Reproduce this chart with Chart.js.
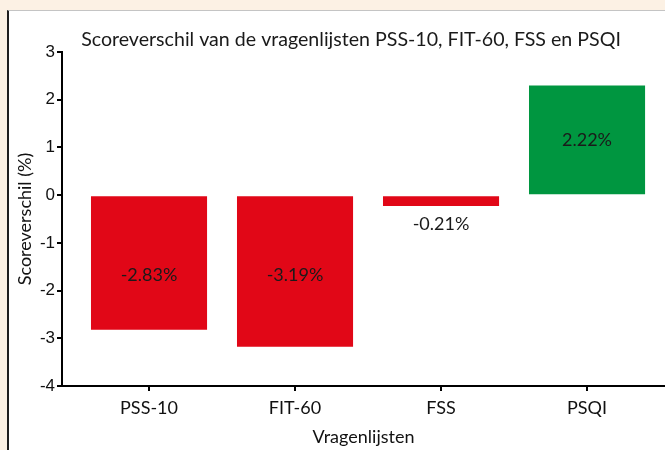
<!DOCTYPE html>
<html>
<head>
<meta charset="utf-8">
<script src="https://cdn.jsdelivr.net/npm/chart.js@4.4.0/dist/chart.umd.min.js"></script>
<style>
  html, body { margin: 0; padding: 0; background: #fcf1e4; width: 665px; height: 450px; overflow: hidden; }
  #box { position: absolute; left: 7px; top: 10px; width: 700px; height: 500px; background: #fff;
         border-left: 2px solid #1e1e1e; border-top: 1px solid #c4c4c4; }
  #wrap { position: absolute; left: 0; top: 0; width: 665px; height: 450px; }
</style>
</head>
<body>
<div id="box"></div>
<div id="wrap"><canvas id="chart" width="665" height="450"></canvas></div>
<script>
// data
const categories = ['PSS-10', 'FIT-60', 'FSS', 'PSQI'];
const scores = [-2.82, -3.18, -0.23, 2.30];
const valueLabels = ['-2.83%', '-3.19%', '-0.21%', '2.22%'];
const yMin = -4, yMax = 3;

const RED = '#e10717', GREEN = '#009640';
const textFont = 'Lato, "Open Sans", sans-serif';

// title + labels on the bars
const textPlugin = {
  id: 'texts',
  afterDatasetsDraw(chart) {
    const ctx = chart.ctx;
    const y = chart.scales.y;
    const meta = chart.getDatasetMeta(0);
    ctx.save();
    ctx.fillStyle = '#1a1a1a';
    ctx.textAlign = 'center';
    ctx.textBaseline = 'middle';
    ctx.font = '18px ' + textFont;
    meta.data.forEach((el, i) => {
      const v = scores[i];
      let ly;
      if (v > 0) ly = (el.y + el.base) / 2;
      else if (v < -1) ly = y.getPixelForValue(-1.68);
      else ly = el.y + 18;
      ctx.fillText(valueLabels[i], el.x, ly);
    });
    ctx.font = '19.6px ' + textFont;
    ctx.fillText('Scoreverschil van de vragenlijsten PSS-10, FIT-60, FSS en PSQI', 351, 40);
    ctx.restore();
  }
};

new Chart(document.getElementById('chart'), {
  type: 'bar',
  data: {
    datasets: [{
      data: scores.map((v, i) => ({ x: i, y: v })),
      backgroundColor: scores.map(v => v < 0 ? RED : GREEN),
      borderWidth: 0,
      categoryPercentage: 1,
      barPercentage: 0.795
    }]
  },
  options: {
    responsive: false,
    animation: false,
    layout: { padding: { top: 52, left: 0, right: 0, bottom: 0 } },
    plugins: { legend: { display: false }, tooltip: { enabled: false }, title: { display: false } },
    scales: {
      x: {
        type: 'linear',
        offset: false,
        min: -0.596,
        max: 3.534,
        afterFit: s => { s.height = 64; },
        border: { display: true, color: '#000', width: 2 },
        grid: { offset: false, drawOnChartArea: false, drawTicks: true, tickLength: 5, color: '#000', lineWidth: 2 },
        ticks: {
          stepSize: 1,
          includeBounds: false,
          autoSkip: false,
          maxRotation: 0,
          padding: 6,
          color: '#111',
          font: { family: textFont, size: 18 },
          callback: v => categories[v] ?? ''
        },
        title: {
          display: true,
          text: 'Vragenlijsten',
          color: '#111',
          font: { family: textFont, size: 18 },
          padding: { top: 0, bottom: 2 }
        }
      },
      y: {
        min: yMin,
        max: yMax,
        afterFit: s => { s.width = 62; },
        border: { display: true, color: '#000', width: 2 },
        grid: { drawOnChartArea: false, drawTicks: true, tickLength: 5, color: '#000', lineWidth: 2 },
        ticks: {
          stepSize: 1,
          padding: 2,
          color: '#111',
          font: { family: '"Liberation Sans", Arial, sans-serif', size: 17 }
        },
        title: {
          display: true,
          text: 'Scoreverschil (%)',
          color: '#111',
          font: { family: textFont, size: 18 },
          padding: { top: 14, bottom: 0 }
        }
      }
    }
  },
  plugins: [textPlugin]
});
</script>
</body>
</html>
